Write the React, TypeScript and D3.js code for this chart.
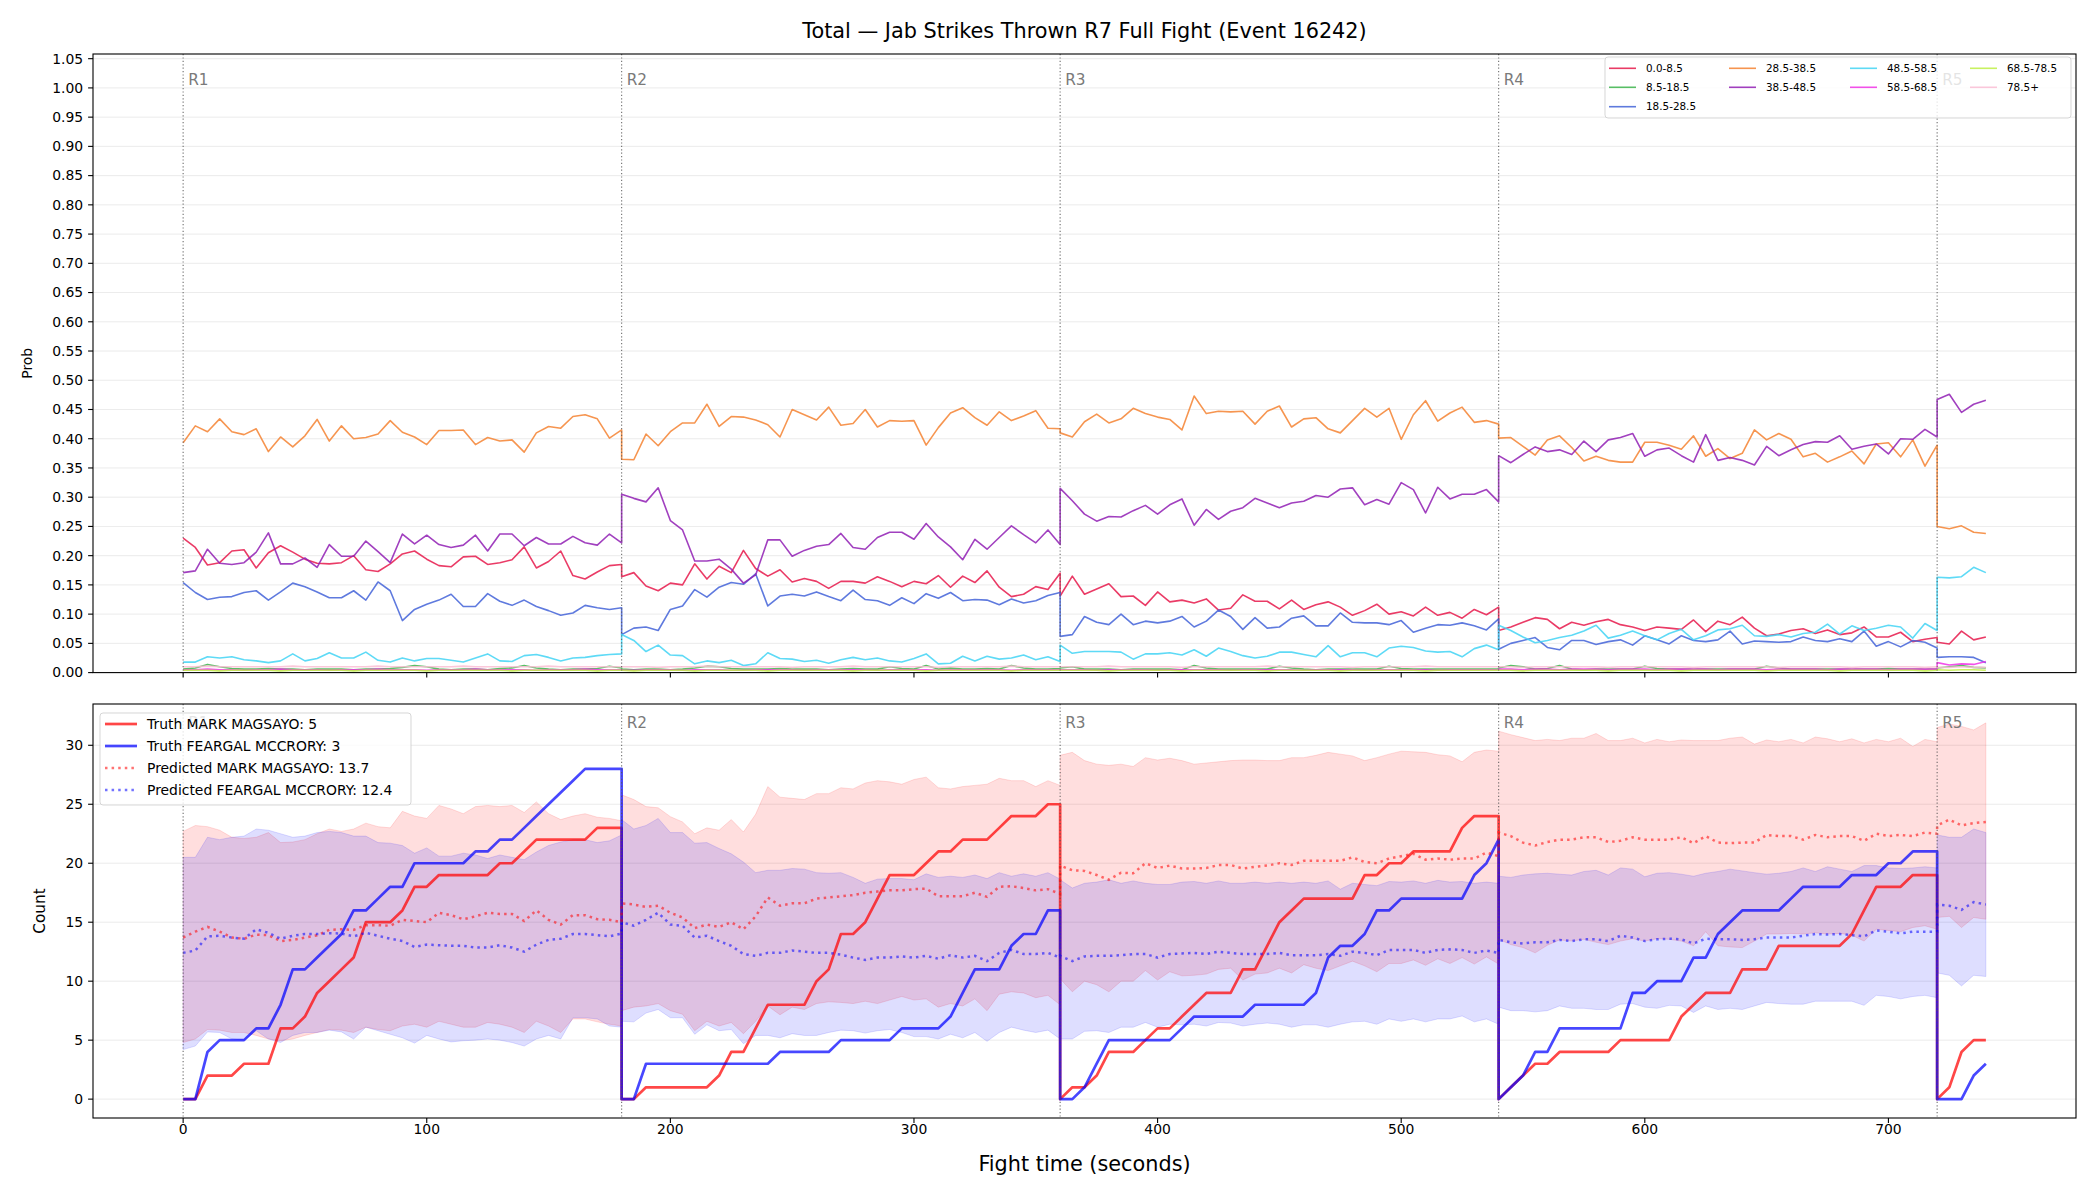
import React, { useEffect } from 'react';
import * as d3 from 'd3';

// rounds and sampling grid (seconds)
const ROUND_STARTS = [0, 180, 360, 540, 720];
const ROUND_LENGTHS = [180, 180, 180, 180, 20];
const ROUND_LABELS = ['R1', 'R2', 'R3', 'R4', 'R5'];
const SAMPLE_STEP = 5;
const TIMES = ROUND_STARTS.flatMap((start, r) =>
  d3.range(0, ROUND_LENGTHS[r] + 1, SAMPLE_STEP).map(s => start + s));

const X_TICKS = [0, 100, 200, 300, 400, 500, 600, 700];
const PROB_TICKS = d3.range(0, 22).map(i => i * 0.05);
const COUNT_TICKS = [0, 5, 10, 15, 20, 25, 30];

const BUCKETS = ['0.0-8.5', '8.5-18.5', '18.5-28.5', '28.5-38.5', '38.5-48.5', '48.5-58.5', '58.5-68.5', '68.5-78.5', '78.5+'];
const BUCKET_COLORS = ['#e6194b', '#3cb44b', '#4363d8', '#f58231', '#911eb4', '#42d4f4', '#f032e6', '#bfef45', '#fabed4'];

const PROB_0_8 = [
  0.230,0.214,0.184,0.188,0.208,0.210,0.179,0.205,0.217,0.206,0.194,0.187,0.186,0.188,0.200,0.176,0.173,0.186,0.203,0.208,0.194,0.183,0.181,0.198,0.199,0.185,0.188,0.193,0.215,0.179,0.190,0.208,0.166,0.160,0.172,0.183,0.185,
  0.164,0.171,0.148,0.140,0.153,0.150,0.186,0.160,0.182,0.171,0.209,0.178,0.165,0.176,0.155,0.161,0.156,0.144,0.156,0.156,0.153,0.164,0.156,0.147,0.156,0.152,0.166,0.146,0.165,0.154,0.174,0.146,0.130,0.134,0.147,0.142,0.170,
  0.131,0.165,0.134,0.143,0.152,0.130,0.131,0.115,0.138,0.121,0.124,0.119,0.126,0.107,0.110,0.133,0.122,0.122,0.109,0.124,0.108,0.116,0.121,0.112,0.098,0.106,0.117,0.100,0.104,0.097,0.112,0.098,0.103,0.093,0.108,0.099,0.112,
  0.072,0.078,0.086,0.094,0.091,0.075,0.086,0.081,0.087,0.091,0.082,0.078,0.072,0.078,0.076,0.074,0.090,0.070,0.088,0.082,0.095,0.076,0.063,0.066,0.072,0.075,0.067,0.073,0.065,0.068,0.078,0.061,0.061,0.069,0.053,0.057,0.060,
  0.052,0.049,0.071,0.056,0.061,
];
const PROB_8_18 = [
  0.006,0.008,0.014,0.010,0.007,0.006,0.006,0.007,0.006,0.006,0.005,0.006,0.006,0.006,0.005,0.006,0.006,0.007,0.009,0.012,0.010,0.006,0.005,0.006,0.006,0.005,0.007,0.008,0.012,0.008,0.006,0.005,0.006,0.006,0.007,0.011,0.008,
  0.006,0.005,0.006,0.006,0.005,0.006,0.008,0.011,0.010,0.007,0.006,0.006,0.006,0.007,0.006,0.006,0.006,0.005,0.006,0.007,0.006,0.006,0.010,0.007,0.006,0.012,0.006,0.008,0.006,0.006,0.007,0.006,0.012,0.008,0.006,0.006,0.007,
  0.008,0.010,0.006,0.006,0.006,0.005,0.006,0.006,0.006,0.006,0.005,0.012,0.008,0.006,0.006,0.006,0.006,0.006,0.011,0.008,0.006,0.005,0.006,0.006,0.006,0.006,0.006,0.011,0.007,0.006,0.006,0.006,0.006,0.006,0.006,0.006,0.006,
  0.008,0.012,0.010,0.006,0.007,0.012,0.006,0.005,0.006,0.006,0.006,0.006,0.011,0.007,0.006,0.006,0.006,0.006,0.006,0.006,0.006,0.006,0.011,0.008,0.006,0.006,0.006,0.006,0.006,0.006,0.006,0.006,0.007,0.006,0.006,0.006,0.006,
  0.008,0.010,0.012,0.009,0.008,
];
const PROB_18_28 = [
  0.154,0.137,0.125,0.129,0.130,0.137,0.140,0.124,0.138,0.153,0.147,0.138,0.128,0.128,0.140,0.124,0.155,0.140,0.089,0.108,0.117,0.124,0.134,0.113,0.113,0.135,0.122,0.115,0.124,0.113,0.106,0.098,0.102,0.115,0.111,0.108,0.111,
  0.065,0.076,0.078,0.072,0.108,0.114,0.142,0.129,0.146,0.154,0.151,0.169,0.114,0.131,0.134,0.131,0.138,0.130,0.123,0.141,0.125,0.123,0.115,0.128,0.118,0.135,0.127,0.137,0.123,0.125,0.124,0.116,0.126,0.119,0.123,0.132,0.137,
  0.062,0.065,0.096,0.086,0.082,0.100,0.082,0.088,0.085,0.088,0.096,0.078,0.088,0.107,0.096,0.074,0.094,0.076,0.078,0.093,0.097,0.080,0.080,0.102,0.086,0.085,0.085,0.082,0.089,0.069,0.076,0.082,0.081,0.085,0.080,0.073,0.092,
  0.040,0.050,0.055,0.060,0.043,0.039,0.055,0.055,0.048,0.053,0.056,0.047,0.063,0.056,0.049,0.063,0.055,0.053,0.056,0.071,0.049,0.054,0.053,0.052,0.053,0.061,0.055,0.053,0.058,0.053,0.071,0.045,0.053,0.044,0.055,0.052,0.042,
  0.026,0.027,0.027,0.026,0.017,
];
const PROB_28_38 = [
  0.393,0.422,0.412,0.434,0.412,0.407,0.417,0.378,0.403,0.386,0.405,0.433,0.396,0.422,0.400,0.402,0.408,0.431,0.411,0.403,0.390,0.414,0.414,0.415,0.390,0.402,0.396,0.398,0.377,0.410,0.421,0.418,0.438,0.441,0.434,0.401,0.415,
  0.365,0.364,0.408,0.388,0.412,0.427,0.427,0.459,0.421,0.438,0.437,0.432,0.424,0.403,0.450,0.441,0.432,0.454,0.423,0.426,0.450,0.420,0.431,0.430,0.431,0.389,0.419,0.444,0.453,0.436,0.423,0.446,0.431,0.439,0.448,0.418,0.417,
  0.410,0.403,0.429,0.442,0.427,0.434,0.452,0.443,0.437,0.433,0.415,0.473,0.443,0.447,0.446,0.447,0.425,0.447,0.456,0.420,0.434,0.436,0.417,0.410,0.431,0.452,0.437,0.452,0.399,0.441,0.465,0.430,0.444,0.454,0.428,0.431,0.425,
  0.401,0.402,0.387,0.372,0.398,0.405,0.385,0.362,0.370,0.363,0.360,0.360,0.394,0.394,0.389,0.382,0.405,0.370,0.383,0.366,0.375,0.415,0.398,0.409,0.399,0.369,0.375,0.360,0.369,0.379,0.357,0.391,0.393,0.369,0.398,0.353,0.389,
  0.250,0.246,0.251,0.240,0.238,
];
const PROB_38_48 = [
  0.171,0.174,0.211,0.187,0.185,0.188,0.206,0.239,0.186,0.186,0.196,0.180,0.219,0.199,0.199,0.225,0.207,0.188,0.237,0.220,0.235,0.219,0.214,0.218,0.235,0.208,0.237,0.237,0.217,0.231,0.220,0.220,0.233,0.222,0.218,0.237,0.222,
  0.305,0.298,0.292,0.316,0.260,0.244,0.191,0.191,0.194,0.177,0.153,0.167,0.227,0.227,0.199,0.209,0.216,0.219,0.238,0.214,0.211,0.231,0.240,0.240,0.228,0.255,0.232,0.215,0.193,0.228,0.211,0.231,0.251,0.236,0.222,0.244,0.219,
  0.315,0.294,0.271,0.259,0.267,0.266,0.277,0.286,0.271,0.287,0.297,0.252,0.279,0.262,0.276,0.282,0.298,0.290,0.282,0.290,0.293,0.303,0.300,0.314,0.316,0.287,0.296,0.288,0.325,0.313,0.273,0.317,0.297,0.305,0.305,0.313,0.292,
  0.371,0.359,0.373,0.386,0.378,0.381,0.373,0.396,0.378,0.398,0.402,0.409,0.370,0.381,0.384,0.371,0.360,0.407,0.363,0.368,0.363,0.355,0.387,0.371,0.381,0.390,0.395,0.394,0.405,0.382,0.387,0.391,0.374,0.400,0.399,0.416,0.403,
  0.467,0.476,0.445,0.459,0.466,
];
const PROB_48_58 = [
  0.018,0.018,0.027,0.025,0.027,0.022,0.020,0.017,0.020,0.032,0.020,0.024,0.034,0.025,0.025,0.035,0.021,0.018,0.025,0.020,0.024,0.024,0.021,0.018,0.025,0.032,0.020,0.019,0.029,0.031,0.026,0.020,0.025,0.026,0.029,0.031,0.032,
  0.065,0.055,0.036,0.047,0.030,0.029,0.015,0.020,0.017,0.021,0.012,0.015,0.034,0.024,0.023,0.019,0.021,0.016,0.022,0.026,0.022,0.025,0.020,0.018,0.024,0.032,0.015,0.016,0.028,0.020,0.028,0.023,0.025,0.030,0.022,0.027,0.019,
  0.047,0.033,0.036,0.036,0.036,0.035,0.023,0.032,0.032,0.034,0.030,0.039,0.028,0.042,0.036,0.029,0.025,0.028,0.035,0.035,0.031,0.027,0.046,0.027,0.034,0.034,0.027,0.042,0.045,0.043,0.037,0.035,0.036,0.027,0.041,0.047,0.039,
  0.081,0.072,0.061,0.051,0.055,0.060,0.064,0.071,0.081,0.059,0.064,0.071,0.063,0.056,0.067,0.074,0.056,0.063,0.073,0.075,0.081,0.063,0.062,0.065,0.061,0.067,0.069,0.083,0.066,0.080,0.072,0.076,0.081,0.078,0.059,0.084,0.072,
  0.163,0.162,0.164,0.180,0.171,
];
const PROB_58_68 = [
  0.005,0.005,0.006,0.005,0.005,0.004,0.005,0.005,0.006,0.005,0.005,0.005,0.004,0.005,0.005,0.005,0.006,0.005,0.005,0.005,0.004,0.005,0.005,0.005,0.006,0.005,0.005,0.005,0.005,0.004,0.005,0.005,0.005,0.006,0.005,0.005,0.005,
  0.004,0.004,0.005,0.005,0.005,0.004,0.005,0.005,0.005,0.004,0.004,0.005,0.005,0.005,0.005,0.004,0.005,0.005,0.005,0.005,0.005,0.004,0.005,0.005,0.005,0.005,0.004,0.005,0.005,0.005,0.005,0.005,0.004,0.005,0.005,0.005,0.005,
  0.005,0.005,0.005,0.004,0.005,0.005,0.005,0.005,0.004,0.005,0.005,0.005,0.005,0.005,0.004,0.005,0.005,0.005,0.005,0.005,0.004,0.005,0.005,0.005,0.005,0.004,0.005,0.005,0.005,0.005,0.005,0.004,0.005,0.005,0.005,0.005,0.005,
  0.006,0.006,0.005,0.006,0.006,0.005,0.006,0.006,0.006,0.005,0.006,0.006,0.006,0.005,0.006,0.006,0.006,0.006,0.005,0.006,0.006,0.006,0.005,0.006,0.006,0.006,0.006,0.005,0.006,0.006,0.006,0.006,0.005,0.006,0.006,0.006,0.006,
  0.017,0.013,0.015,0.014,0.019,
];
const PROB_68_78 = [
  0.004,0.004,0.004,0.003,0.004,0.004,0.004,0.004,0.003,0.004,0.004,0.004,0.004,0.004,0.003,0.004,0.004,0.004,0.004,0.004,0.003,0.004,0.004,0.004,0.004,0.004,0.004,0.003,0.004,0.004,0.004,0.004,0.004,0.004,0.003,0.004,0.004,
  0.004,0.003,0.004,0.004,0.004,0.004,0.003,0.004,0.004,0.004,0.004,0.004,0.003,0.004,0.004,0.004,0.004,0.004,0.004,0.003,0.004,0.004,0.004,0.004,0.004,0.003,0.004,0.004,0.004,0.004,0.004,0.004,0.003,0.004,0.004,0.004,0.004,
  0.004,0.004,0.004,0.004,0.003,0.004,0.004,0.004,0.004,0.004,0.003,0.004,0.004,0.004,0.004,0.004,0.004,0.003,0.004,0.004,0.004,0.004,0.004,0.003,0.004,0.004,0.004,0.004,0.004,0.004,0.003,0.004,0.004,0.004,0.004,0.004,0.004,
  0.004,0.004,0.003,0.004,0.004,0.004,0.004,0.004,0.004,0.003,0.004,0.004,0.004,0.004,0.004,0.003,0.004,0.004,0.004,0.004,0.004,0.004,0.003,0.004,0.004,0.004,0.004,0.004,0.003,0.004,0.004,0.004,0.004,0.004,0.004,0.003,0.004,
  0.005,0.004,0.005,0.005,0.004,
];
const PROB_78_PLUS = [
  0.010,0.010,0.011,0.010,0.010,0.010,0.010,0.010,0.010,0.011,0.010,0.010,0.010,0.010,0.010,0.010,0.011,0.010,0.010,0.010,0.010,0.010,0.010,0.011,0.010,0.010,0.010,0.010,0.010,0.010,0.011,0.010,0.010,0.010,0.010,0.010,0.010,
  0.010,0.010,0.010,0.009,0.010,0.010,0.010,0.011,0.010,0.010,0.010,0.010,0.010,0.010,0.009,0.010,0.010,0.010,0.010,0.011,0.010,0.010,0.010,0.010,0.010,0.010,0.009,0.010,0.010,0.010,0.010,0.010,0.011,0.010,0.010,0.010,0.010,
  0.010,0.010,0.010,0.010,0.011,0.010,0.010,0.010,0.010,0.010,0.009,0.010,0.010,0.010,0.010,0.010,0.010,0.011,0.010,0.010,0.010,0.010,0.010,0.010,0.009,0.010,0.010,0.010,0.010,0.010,0.011,0.010,0.010,0.010,0.010,0.010,0.010,
  0.010,0.010,0.009,0.010,0.010,0.010,0.010,0.010,0.010,0.009,0.010,0.010,0.010,0.010,0.010,0.010,0.009,0.010,0.010,0.010,0.010,0.010,0.010,0.009,0.010,0.010,0.010,0.010,0.010,0.009,0.010,0.010,0.010,0.010,0.010,0.009,0.010,
  0.009,0.009,0.010,0.009,0.009,
];
const PROB_SERIES = [PROB_0_8, PROB_8_18, PROB_18_28, PROB_28_38, PROB_38_48, PROB_48_58, PROB_58_68, PROB_68_78, PROB_78_PLUS];

// bottom panel: cumulative jab counts
const FIGHTER_NAMES = ['MARK MAGSAYO', 'FEARGAL MCCRORY'];
const FIGHTER_COLORS = ['#ff0000', '#0000ff'];
const FINAL_TRUTH = [5, 3];
const FINAL_PRED = [13.7, 12.4];

const TRUTH_MAGSAYO = [
  0,0,2,2,2,3,3,3,6,6,7,9,10,11,12,15,15,15,16,18,18,19,19,19,19,19,20,20,21,22,22,22,22,22,23,23,23,
  0,0,1,1,1,1,1,1,2,4,4,6,8,8,8,8,10,11,14,14,15,17,19,19,19,20,21,21,22,22,22,23,24,24,24,25,25,
  0,1,1,2,4,4,4,5,6,6,7,8,9,9,9,11,11,13,15,16,17,17,17,17,17,19,19,20,20,21,21,21,21,23,24,24,24,
  0,1,2,3,3,4,4,4,4,4,5,5,5,5,5,7,8,9,9,9,11,11,11,13,13,13,13,13,13,14,16,18,18,18,19,19,19,
  0,1,4,5,5,
];
const TRUTH_MCCRORY = [
  0,0,4,5,5,5,6,6,8,11,11,12,13,14,16,16,17,18,18,20,20,20,20,20,21,21,22,22,23,24,25,26,27,28,28,28,28,
  0,0,3,3,3,3,3,3,3,3,3,3,3,4,4,4,4,4,5,5,5,5,5,6,6,6,6,7,9,11,11,11,13,14,14,16,16,
  0,0,1,3,5,5,5,5,5,5,6,7,7,7,7,7,8,8,8,8,8,9,12,13,13,14,16,16,17,17,17,17,17,17,19,20,22,
  0,1,2,4,4,6,6,6,6,6,6,9,9,10,10,10,12,12,14,15,16,16,16,16,17,18,18,18,18,19,19,19,20,20,21,21,21,
  0,0,0,2,3,
];
const PRED_MAGSAYO = [
  13.7,14.2,14.6,14.2,13.7,13.6,13.95,13.9,13.4,13.5,13.7,13.9,14.35,14.4,14.35,14.75,14.75,14.7,15.2,15.1,15.0,15.8,15.6,15.25,15.5,15.8,15.7,15.7,15.1,16.0,15.2,14.8,15.6,15.6,15.25,15.2,15.0,
  16.6,16.5,16.3,16.4,15.8,15.4,14.5,14.8,14.6,15.0,14.4,15.5,17.1,16.4,16.6,16.6,17.0,17.1,17.2,17.3,17.5,17.6,17.7,17.7,17.8,17.85,17.2,17.2,17.2,17.5,17.15,18.0,18.05,17.9,17.7,17.8,17.4,
  19.8,19.4,19.35,19.0,18.6,19.2,19.15,20.0,19.6,19.8,19.55,19.55,19.6,19.85,19.85,19.55,19.7,19.8,20.0,19.85,20.2,20.2,20.2,20.2,20.5,20.1,20.0,20.4,20.6,20.8,20.3,20.4,20.3,20.4,20.4,20.9,20.6,
  22.6,22.3,21.75,21.5,21.8,22.0,22.0,22.2,22.2,21.8,21.9,22.2,22.0,22.0,22.0,22.2,21.7,22.3,21.75,21.7,21.75,21.75,22.4,22.3,22.3,22.0,22.4,22.2,22.3,22.3,21.9,22.5,22.3,22.4,22.3,22.6,22.5,
  23.2,23.7,23.2,23.4,23.5,
];
const PRED_MCCRORY = [
  12.4,12.6,13.8,13.85,13.7,13.6,14.4,14.1,13.6,13.85,14.0,14.0,14.07,14.04,13.8,14.1,13.85,13.6,13.4,12.9,13.1,13.05,13.0,13.0,12.85,12.85,13.05,12.85,12.5,13.1,13.5,13.6,14.0,14.0,13.9,13.8,14.04,
  15.0,14.7,15.2,15.8,14.8,14.7,13.7,13.85,13.4,13.0,12.3,12.15,12.4,12.4,12.6,12.5,12.4,12.4,12.25,12.0,11.8,12.0,12.0,12.1,12.0,12.15,11.9,12.2,12.0,12.15,11.7,12.4,12.65,12.3,12.3,12.4,12.0,
  12.15,11.7,12.1,12.15,12.15,12.2,12.3,12.3,12.0,12.3,12.35,12.4,12.3,12.5,12.4,12.3,12.3,12.3,12.4,12.2,12.2,12.2,12.3,12.15,12.5,12.4,12.2,12.65,12.65,12.65,12.4,12.65,12.7,12.65,12.4,12.6,12.4,
  13.5,13.3,13.2,13.3,13.3,13.5,13.4,13.55,13.55,13.4,13.85,13.7,13.4,13.55,13.6,13.55,13.2,13.6,13.55,13.55,13.5,13.55,13.7,13.7,13.7,13.85,14.0,13.95,14.0,13.9,13.8,14.3,14.2,14.05,14.2,14.2,14.2,
  16.5,16.4,16.05,16.7,16.5,
];
const BAND_HI_MAGSAYO = [
  22.7,23.2,23.1,22.8,22.2,22.1,22.2,22.6,21.75,21.8,22.0,22.5,22.9,22.7,22.9,23.4,23.1,23.0,24.4,24.0,23.8,24.9,24.6,24.2,24.8,24.9,24.8,24.9,24.3,25.2,24.2,23.7,24.0,24.2,23.9,23.8,23.6,
  25.8,25.4,24.8,24.7,23.95,23.5,22.5,23.0,22.8,23.7,22.65,24.15,26.5,25.6,25.5,25.4,25.9,25.9,26.4,26.3,26.8,27.0,26.9,26.7,27.1,27.3,26.4,26.3,26.5,26.6,26.7,27.2,27.0,27.0,26.5,27.0,26.6,
  29.15,29.4,28.7,28.4,28.3,28.4,28.2,28.95,28.75,28.9,28.7,28.4,28.5,28.6,28.7,28.75,28.75,28.7,28.7,28.95,28.95,29.15,29.4,29.25,29.1,28.7,28.95,29.25,29.5,29.45,29.4,29.2,29.1,28.6,29.4,29.6,29.5,
  31.2,30.9,30.65,30.4,30.5,30.4,30.6,30.6,31.0,30.4,30.4,30.6,30.2,30.5,30.3,30.45,30.4,30.4,30.4,30.6,30.7,30.1,30.45,30.3,30.5,30.2,30.7,30.55,30.3,30.55,30.2,30.5,30.3,30.6,29.9,30.5,30.3,
  31.5,31.8,31.6,31.3,31.9,
];
const BAND_LO_MAGSAYO = [
  4.8,5.1,5.9,5.85,5.65,5.65,5.4,5.1,4.95,5.1,5.4,5.65,5.9,5.85,5.65,6.1,5.9,5.8,6.2,6.35,6.1,6.6,6.35,6.1,6.1,6.5,6.35,6.1,5.65,6.6,6.2,5.65,6.8,6.8,6.55,6.35,6.2,
  7.5,7.8,7.9,8.1,7.5,7.2,5.8,6.6,6.2,6.5,5.55,6.6,7.9,7.15,7.8,7.6,8.1,8.25,8.2,8.1,8.3,8.1,8.4,8.7,8.4,8.5,7.8,8.1,7.9,8.5,7.5,8.9,9.1,9.0,8.6,8.8,8.0,
  10.2,9.1,10.0,9.7,9.1,10.0,10.0,10.9,10.1,10.8,10.45,10.5,10.6,11.0,11.1,10.1,10.6,10.7,11.1,10.7,11.4,11.1,10.9,11.3,11.7,11.3,10.8,11.5,11.5,11.8,11.35,11.9,11.5,12.0,11.45,12.06,11.45,
  13.55,13.1,12.85,12.4,13.05,13.5,13.4,13.55,13.3,13.1,13.4,13.6,13.4,13.6,13.55,13.4,13.0,14.2,13.0,12.9,12.85,13.4,14.0,14.0,14.05,14.0,14.1,14.0,14.05,13.9,13.4,14.4,14.3,14.2,14.55,14.7,14.4,
  15.4,15.5,14.55,15.4,15.25,
];
const BAND_HI_MCCRORY = [
  20.5,20.5,22.2,22.0,22.2,22.3,22.9,22.8,22.5,22.2,22.3,22.6,22.7,22.6,22.3,22.3,21.75,21.7,21.5,20.85,21.3,20.6,20.6,20.85,20.7,20.4,20.7,20.5,20.3,20.95,21.5,21.8,22.0,22.0,21.75,21.9,22.4,
  23.7,22.9,23.2,23.8,22.6,22.6,21.7,21.75,21.25,20.8,20.1,19.2,19.4,19.4,19.55,19.5,19.2,19.15,19.2,18.8,18.3,18.65,18.7,18.7,18.6,19.1,18.8,18.9,18.8,19.0,18.7,19.2,18.9,19.1,18.9,19.2,18.65,
  18.6,17.9,18.3,18.4,18.6,18.3,18.5,18.3,18.2,18.2,18.4,18.45,18.3,18.5,18.3,18.3,18.4,18.3,18.4,18.3,18.4,18.3,18.5,17.8,18.3,18.2,18.1,18.45,18.4,18.5,18.3,18.55,18.4,18.45,18.3,18.4,18.3,
  18.9,18.8,19.0,19.1,19.15,19.07,19.0,19.3,19.4,19.0,19.6,19.5,18.85,19.15,19.2,19.07,18.9,19.15,19.3,19.5,19.35,19.2,19.07,19.15,19.3,19.6,19.3,19.7,19.5,19.3,19.8,19.8,19.6,19.55,19.6,19.7,19.6,
  22.4,22.2,22.2,22.9,22.6,
];
const BAND_LO_MCCRORY = [
  4.2,4.5,5.7,5.65,5.1,5.0,5.8,5.1,4.8,5.4,5.65,5.65,5.85,5.7,5.1,6.1,5.8,5.5,5.2,4.75,5.4,5.1,4.85,4.95,5.0,5.1,5.0,4.8,4.5,5.1,5.4,5.1,6.9,6.9,6.8,6.2,6.1,
  6.6,6.55,7.3,7.6,6.9,6.9,5.5,6.3,5.8,5.9,4.7,5.4,5.4,5.2,5.55,5.4,5.4,5.65,5.85,5.8,5.6,5.8,5.9,5.65,5.3,5.3,5.1,5.5,5.2,5.65,4.9,5.65,6.1,5.85,5.65,5.85,5.1,
  5.1,5.1,5.75,5.8,5.65,6.1,6.1,6.5,6.1,6.35,6.3,6.35,6.2,6.5,6.45,6.2,6.35,6.45,6.35,6.1,6.3,6.3,6.1,6.35,6.55,6.6,6.35,6.8,6.6,6.8,6.55,6.8,6.8,7.05,6.55,6.8,6.35,
  7.8,7.5,7.5,7.4,7.5,7.9,7.7,7.7,7.6,7.6,8.05,8.1,7.8,7.7,7.95,7.9,7.35,7.9,7.6,7.7,7.6,7.9,8.2,8.1,8.05,8.05,8.3,8.3,8.3,8.3,7.95,8.8,8.7,8.5,8.7,8.8,8.6,
  10.7,10.5,9.6,10.5,10.4,
];
const TRUTH_SERIES = [TRUTH_MAGSAYO, TRUTH_MCCRORY];
const PRED_SERIES = [PRED_MAGSAYO, PRED_MCCRORY];
const BAND_LO = [BAND_LO_MAGSAYO, BAND_LO_MCCRORY];
const BAND_HI = [BAND_HI_MAGSAYO, BAND_HI_MCCRORY];

const FONT = 'DejaVu Sans, Verdana, sans-serif';
const W = 2100;
const H = 1200;
const LEFT = 93;
const RIGHT = 2076;
const P_TOP = 54;
const P_BOT = 672.6;
const C_TOP = 704;
const C_BOT = 1118;
const TICK = 4.9;

const App = () => {
  useEffect(() => {
    document.body.style.margin = '0';
  }, []);

  const x = d3.scaleLinear().domain([-37, 777]).range([LEFT, RIGHT]);
  const yP = d3.scaleLinear().domain([0, 1.058]).range([P_BOT, P_TOP]);
  const yC = d3.scaleLinear().domain([-1.6, 33.5]).range([C_BOT, C_TOP]);

  const probLine = d3.line<number>().x((_, i) => x(TIMES[i])).y(v => yP(v));
  const countLine = d3.line<number>().x((_, i) => x(TIMES[i])).y(v => yC(v));
  const band = (lo: number[], hi: number[]) =>
    d3.area<number>().x((_, i) => x(TIMES[i])).y0((_, i) => yC(lo[i])).y1((_, i) => yC(hi[i]))(lo);

  const roundMarks = (yScale: any, top: number, bottom: number) => {
    const ymax = yScale.domain()[1];
    const labelTop = yScale(ymax * 0.97);
    return ROUND_STARTS.map((s, r) => (
      <g key={'rm' + r}>
        <line x1={x(s)} x2={x(s)} y1={top} y2={bottom} stroke="#555" strokeWidth={1.1}
          strokeDasharray="1.2,2.2" opacity={0.85} />
        <text x={x(s) + 5} y={labelTop + 12} fontSize={15.3} fill="#7a7a7a">{ROUND_LABELS[r]}</text>
      </g>
    ));
  };

  const legendTopCols = [[0, 1, 2], [3, 4], [5, 6], [7, 8]];
  const legendTopX = [1609, 1729, 1850, 1970];
  const legendTopY = [68.3, 87.3, 106.7];

  const bottomLegend = [
    { label: `Truth ${FIGHTER_NAMES[0]}: ${FINAL_TRUTH[0]}`, color: FIGHTER_COLORS[0], dotted: false },
    { label: `Truth ${FIGHTER_NAMES[1]}: ${FINAL_TRUTH[1]}`, color: FIGHTER_COLORS[1], dotted: false },
    { label: `Predicted ${FIGHTER_NAMES[0]}: ${FINAL_PRED[0]}`, color: FIGHTER_COLORS[0], dotted: true },
    { label: `Predicted ${FIGHTER_NAMES[1]}: ${FINAL_PRED[1]}`, color: FIGHTER_COLORS[1], dotted: true },
  ];

  return (
    <svg width={W} height={H} style={{ display: 'block', background: '#fff' }} fontFamily={FONT}>
      <rect x={0} y={0} width={W} height={H} fill="#fff" />
      <text x={(LEFT + RIGHT) / 2} y={38} textAnchor="middle" fontSize={20.8} fill="#000">
        Total — Jab Strikes Thrown R7 Full Fight (Event 16242)
      </text>

      {/* ---------- top panel: bucket probabilities ---------- */}
      {PROB_TICKS.map(t => (
        <line key={'gp' + t} x1={LEFT} x2={RIGHT} y1={yP(t)} y2={yP(t)} stroke="#b0b0b0" strokeWidth={0.8} opacity={0.3} />
      ))}
      {PROB_SERIES.map((vals, k) => (
        <path key={'pb' + k} d={probLine(vals) || ''} fill="none" stroke={BUCKET_COLORS[k]}
          strokeWidth={1.6} opacity={0.85} strokeLinejoin="round" />
      ))}
      {roundMarks(yP, P_TOP, P_BOT)}
      <rect x={LEFT} y={P_TOP} width={RIGHT - LEFT} height={P_BOT - P_TOP} fill="none" stroke="#000" strokeWidth={1.1} />
      {PROB_TICKS.map(t => (
        <g key={'tp' + t}>
          <line x1={LEFT - TICK} x2={LEFT} y1={yP(t)} y2={yP(t)} stroke="#000" strokeWidth={1.1} />
          <text x={LEFT - TICK - 4.9} y={yP(t)} dy="0.35em" textAnchor="end" fontSize={13.9} fill="#000">{t.toFixed(2)}</text>
        </g>
      ))}
      {X_TICKS.map(t => (
        <line key={'xt1' + t} x1={x(t)} x2={x(t)} y1={P_BOT} y2={P_BOT + TICK} stroke="#000" strokeWidth={1.1} />
      ))}
      <text transform={`translate(27,${(P_TOP + P_BOT) / 2}) rotate(-90)`} textAnchor="middle" dy="0.35em" fontSize={13.9} fill="#000">Prob</text>

      {/* top legend */}
      <rect x={1605} y={57} width={466} height={61} rx={3} fill="#fff" fillOpacity={0.8} stroke="#cccccc" strokeOpacity={0.8} strokeWidth={1} />
      {legendTopCols.map((col, c) => col.map((k, r) => (
        <g key={'lt' + k}>
          <line x1={legendTopX[c]} x2={legendTopX[c] + 27} y1={legendTopY[r]} y2={legendTopY[r]}
            stroke={BUCKET_COLORS[k]} strokeWidth={1.6} opacity={0.85} />
          <text x={legendTopX[c] + 37} y={legendTopY[r]} dy="0.35em" fontSize={10.4} fill="#000">{BUCKETS[k]}</text>
        </g>
      )))}

      {/* ---------- bottom panel: cumulative counts ---------- */}
      {COUNT_TICKS.map(t => (
        <line key={'gc' + t} x1={LEFT} x2={RIGHT} y1={yC(t)} y2={yC(t)} stroke="#b0b0b0" strokeWidth={0.8} opacity={0.3} />
      ))}
      {[0, 1].map(f => (
        <path key={'band' + f} d={band(BAND_LO[f], BAND_HI[f]) || ''} fill={FIGHTER_COLORS[f]} fillOpacity={0.13}
          stroke={FIGHTER_COLORS[f]} strokeOpacity={0.13} strokeWidth={1} />
      ))}
      {[0, 1].map(f => (
        <path key={'truth' + f} d={countLine(TRUTH_SERIES[f]) || ''} fill="none" stroke={FIGHTER_COLORS[f]}
          strokeWidth={2.7} opacity={0.72} strokeLinejoin="round" />
      ))}
      {[0, 1].map(f => (
        <path key={'pred' + f} d={countLine(PRED_SERIES[f]) || ''} fill="none" stroke={FIGHTER_COLORS[f]}
          strokeWidth={2.5} opacity={0.55} strokeDasharray="2.5,4.1" />
      ))}
      {roundMarks(yC, C_TOP, C_BOT)}
      <rect x={LEFT} y={C_TOP} width={RIGHT - LEFT} height={C_BOT - C_TOP} fill="none" stroke="#000" strokeWidth={1.1} />
      {COUNT_TICKS.map(t => (
        <g key={'tc' + t}>
          <line x1={LEFT - TICK} x2={LEFT} y1={yC(t)} y2={yC(t)} stroke="#000" strokeWidth={1.1} />
          <text x={LEFT - TICK - 4.9} y={yC(t)} dy="0.35em" textAnchor="end" fontSize={13.9} fill="#000">{t}</text>
        </g>
      ))}
      {X_TICKS.map(t => (
        <g key={'xt2' + t}>
          <line x1={x(t)} x2={x(t)} y1={C_BOT} y2={C_BOT + TICK} stroke="#000" strokeWidth={1.1} />
          <text x={x(t)} y={1134} textAnchor="middle" fontSize={13.9} fill="#000">{t}</text>
        </g>
      ))}
      <text transform={`translate(40,${(C_TOP + C_BOT) / 2}) rotate(-90)`} textAnchor="middle" dy="0.35em" fontSize={15.3} fill="#000">Count</text>
      <text x={(LEFT + RIGHT) / 2} y={1171} textAnchor="middle" fontSize={20.8} fill="#000">Fight time (seconds)</text>

      {/* bottom legend */}
      <rect x={100} y={713} width={311} height={92} rx={3} fill="#fff" fillOpacity={0.8} stroke="#cccccc" strokeOpacity={0.8} strokeWidth={1} />
      {bottomLegend.map((item, i) => (
        <g key={'lb' + i}>
          <line x1={105} x2={137} y1={724 + i * 22} y2={724 + i * 22} stroke={item.color}
            strokeWidth={item.dotted ? 2.5 : 2.7} opacity={item.dotted ? 0.55 : 0.72}
            strokeDasharray={item.dotted ? '2.5,4.1' : undefined} />
          <text x={147} y={724 + i * 22} dy="0.35em" fontSize={13.9} fill="#000">{item.label}</text>
        </g>
      ))}
    </svg>
  );
};

export default App;
